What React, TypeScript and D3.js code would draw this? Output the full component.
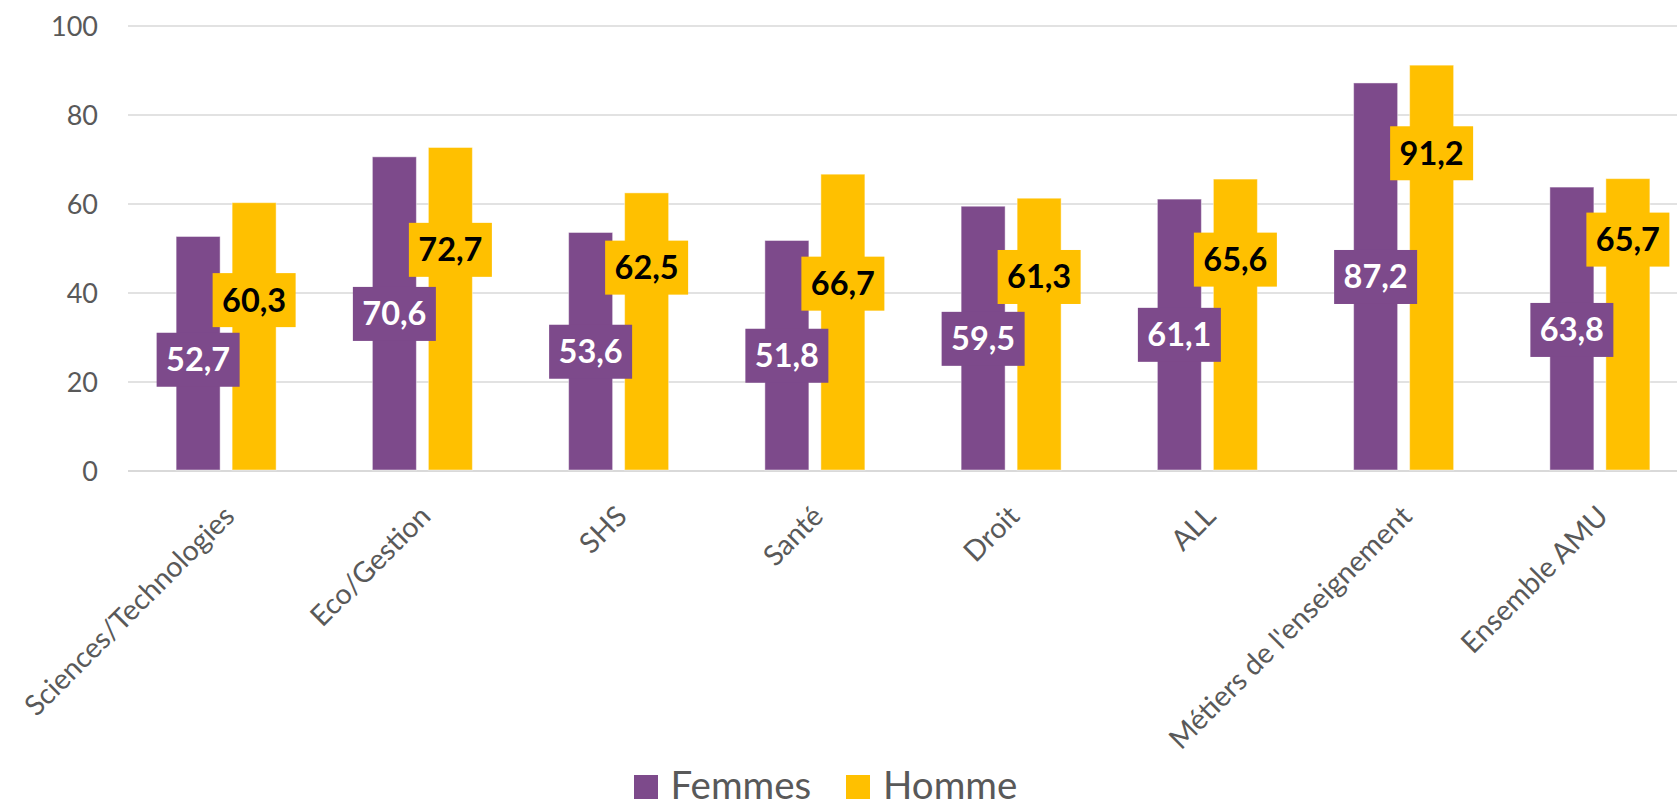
import React from "react";
import * as d3 from "d3";

const categories = [
  "Sciences/Technologies",
  "Eco/Gestion",
  "SHS",
  "Santé",
  "Droit",
  "ALL",
  "Métiers de l'enseignement",
  "Ensemble AMU",
];
const femmes = [52.7, 70.6, 53.6, 51.8, 59.5, 61.1, 87.2, 63.8];
const hommes = [60.3, 72.7, 62.5, 66.7, 61.3, 65.6, 91.2, 65.7];
// label box centres, in value units, as placed in the reference
const femmesLabelAt = [25.0, 35.3, 26.8, 25.9, 29.7, 30.6, 43.6, 31.7];
const hommesLabelAt = [38.4, 49.7, 45.7, 42.1, 43.6, 47.5, 71.4, 52.0];
const yTicks = [0, 20, 40, 60, 80, 100];
const seriesNames = ["Femmes", "Homme"];

const W = 1677;
const H = 801;
const PURPLE = "#7D4A8B";
const GOLD = "#FFC000";
const GRID = "#D9D9D9";
const TEXT = "#595959";
const FONT = "Lato, 'Open Sans', sans-serif";

export default function App() {
  const x = d3.scaleBand<string>().domain(categories).range([128, 1698]).paddingInner(0).paddingOuter(0);
  const inner = d3.scaleBand<string>().domain(seriesNames).range([0, 100]).paddingInner(12 / 56).paddingOuter(0);
  const y = d3.scaleLinear().domain([0, 100]).range([471, 26]);
  const bw = inner.bandwidth();
  const boxW = 83;
  const boxH = 54;
  const series = [
    { name: seriesNames[0], values: femmes, labels: femmesLabelAt, fill: PURPLE, text: "#FFFFFF" },
    { name: seriesNames[1], values: hommes, labels: hommesLabelAt, fill: GOLD, text: "#000000" },
  ];
  const fmt = (v: number) => v.toFixed(1).replace(".", ",");
  const groupX = (c: string) => (x(c) as number) + x.bandwidth() / 2 - 50;

  return (
    <svg
      width={W}
      height={H}
      style={{ position: "absolute", left: 0, top: 0, background: "#fff" }}
      fontFamily={FONT}
    >
      {yTicks.map((t) => (
        <line
          key={"g" + t}
          x1={128}
          x2={W}
          y1={y(t)}
          y2={y(t)}
          stroke={GRID}
          strokeWidth={t === 0 ? 2.2 : 1.5}
        />
      ))}
      {yTicks.map((t) => (
        <text key={"t" + t} x={98} y={y(t) + 9.8} textAnchor="end" fontSize={27} fill={TEXT}>
          {t}
        </text>
      ))}
      {series.map((s) =>
        categories.map((c, i) => (
          <rect
            key={s.name + c}
            x={groupX(c) + (inner(s.name) as number)}
            y={y(s.values[i])}
            width={bw}
            height={y(0) - y(s.values[i]) - 1}
            fill={s.fill}
            stroke="#ffffff"
            strokeOpacity={0.45}
            strokeWidth={1}
          />
        ))
      )}
      {series.map((s) =>
        categories.map((c, i) => {
          const cx = groupX(c) + (inner(s.name) as number) + bw / 2;
          const cy = y(s.labels[i]);
          return (
            <g key={"l" + s.name + c}>
              <rect x={cx - boxW / 2} y={cy - boxH / 2} width={boxW} height={boxH} fill={s.fill} />
              <text x={cx} y={cy + 11.5} textAnchor="middle" fontSize={32.5} fontWeight={700} fill={s.text}>
                {fmt(s.values[i])}
              </text>
            </g>
          );
        })
      )}
      {categories.map((c) => {
        const cx = (x(c) as number) + x.bandwidth() / 2;
        return (
          <text
            key={"x" + c}
            transform={`translate(${cx + 10},${518}) rotate(-45)`}
            textAnchor="end"
            fontSize={28.5}
            fill={TEXT}
          >
            {c}
          </text>
        );
      })}
      <rect x={634} y={775} width={24} height={24} fill={PURPLE} />
      <text x={670.5} y={798.5} fontSize={38.5} fill={TEXT}>
        {seriesNames[0]}
      </text>
      <rect x={846} y={775} width={24} height={24} fill={GOLD} />
      <text x={883} y={798.5} fontSize={38.5} fill={TEXT}>
        {seriesNames[1]}
      </text>
    </svg>
  );
}
